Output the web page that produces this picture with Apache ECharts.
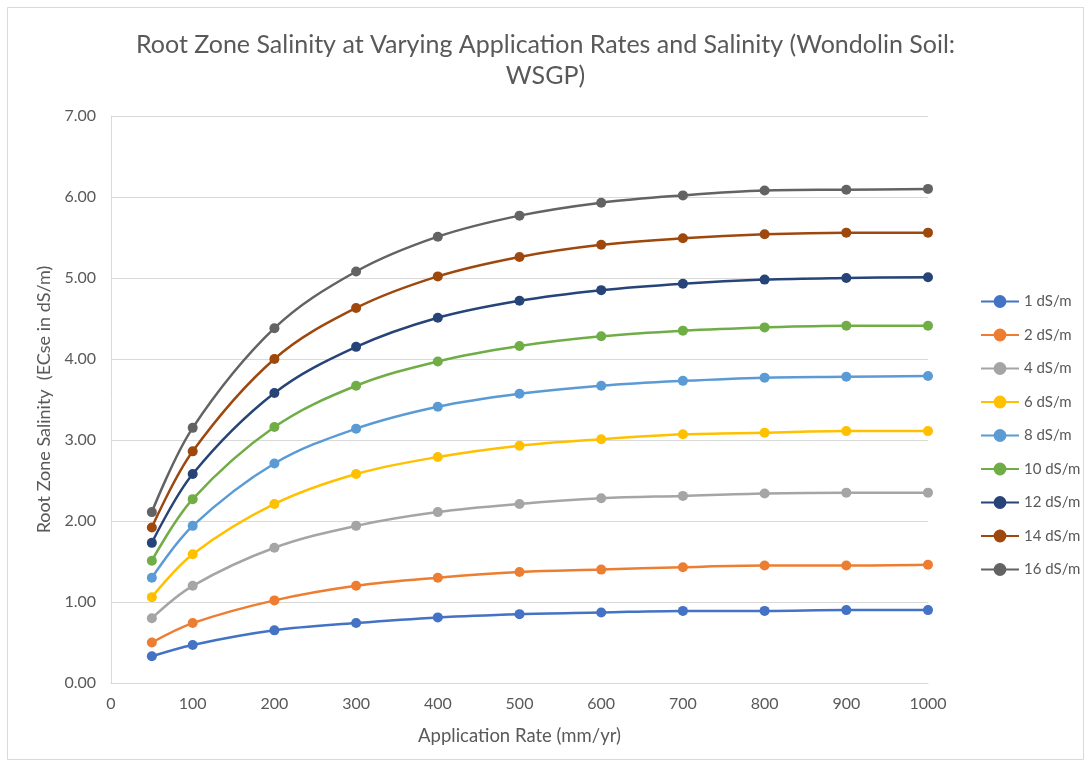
<!DOCTYPE html>
<html>
<head>
<meta charset="utf-8">
<script src="https://cdn.jsdelivr.net/npm/echarts@6/dist/echarts.min.js"></script>
<style>html,body{margin:0;padding:0;background:#fff;}#c{width:1091px;height:767px;}</style>
</head>
<body>
<div id="c"></div>
<script>
const rates = [50,100,200,300,400,500,600,700,800,900,1000];
const seriesNames = ['1 dS/m','2 dS/m','4 dS/m','6 dS/m','8 dS/m','10 dS/m','12 dS/m','14 dS/m','16 dS/m'];
const s1  = [0.33,0.47,0.65,0.74,0.81,0.85,0.87,0.89,0.89,0.90,0.90];
const s2  = [0.50,0.74,1.02,1.20,1.30,1.37,1.40,1.43,1.45,1.45,1.46];
const s4  = [0.80,1.20,1.67,1.94,2.11,2.21,2.28,2.31,2.34,2.35,2.35];
const s6  = [1.06,1.59,2.21,2.58,2.79,2.93,3.01,3.07,3.09,3.11,3.11];
const s8  = [1.30,1.94,2.71,3.14,3.41,3.57,3.67,3.73,3.77,3.78,3.79];
const s10 = [1.51,2.27,3.16,3.67,3.97,4.16,4.28,4.35,4.39,4.41,4.41];
const s12 = [1.73,2.58,3.58,4.15,4.51,4.72,4.85,4.93,4.98,5.00,5.01];
const s14 = [1.92,2.86,4.00,4.63,5.02,5.26,5.41,5.49,5.54,5.56,5.56];
const s16 = [2.11,3.15,4.38,5.08,5.51,5.77,5.93,6.02,6.08,6.09,6.10];
const seriesValues = [s1,s2,s4,s6,s8,s10,s12,s14,s16];
const colors = ['#4472C4','#ED7D31','#A5A5A5','#FFC000','#5B9BD5','#70AD47','#264478','#9E480E','#636363'];
const titleText = 'Root Zone Salinity at Varying Application Rates and Salinity (Wondolin Soil:\nWSGP)';
const xTitle = 'Application Rate (mm/yr)';
const yTitle = 'Root Zone Salinity  (ECse in dS/m)';

const FONT = 'Lato';
const chart = echarts.init(document.getElementById('c'), null, {renderer:'canvas'});
chart.setOption({
  animation:false,
  backgroundColor:'#fff',
  color: colors,
  graphic:[{type:'rect', shape:{x:7.5,y:7.5,width:1076,height:752}, style:{fill:'none', stroke:'#d9d9d9', lineWidth:1}, silent:true}],
  title:{
    text:titleText, left:'center', top:24,
    textStyle:{fontFamily:FONT, fontSize:25, fontWeight:'normal', color:'#595959', lineHeight:31}
  },
  legend:{
    orient:'vertical', left:975, top:289, itemWidth:38, itemHeight:16, itemGap:18.5,
    textStyle:{fontFamily:FONT, fontSize:15, color:'#595959'},
    data: seriesNames
  },
  grid:{left:111, right:163, top:116, bottom:84, containLabel:false},
  xAxis:{
    type:'value', min:0, max:1000, interval:100,
    name:xTitle, nameLocation:'middle', nameGap:44,
    nameTextStyle:{fontFamily:FONT, fontSize:18.5, color:'#595959'},
    axisLine:{show:true, lineStyle:{color:'#d9d9d9', width:1}},
    axisTick:{show:false},
    axisLabel:{fontFamily:FONT, fontSize:16, color:'#595959', margin:13, formatter:v=>String(v)},
    splitLine:{show:false}
  },
  yAxis:{
    type:'value', min:0, max:7, interval:1,
    name:yTitle, nameLocation:'middle', nameGap:57,
    nameTextStyle:{fontFamily:FONT, fontSize:18, color:'#595959'},
    axisLine:{show:true, lineStyle:{color:'#d9d9d9', width:1}},
    axisTick:{show:false},
    axisLabel:{fontFamily:FONT, fontSize:16, color:'#595959', margin:15, formatter:v=>v.toFixed(2)},
    splitLine:{show:true, lineStyle:{color:'#d9d9d9', width:1}}
  },
  series: seriesNames.map((n,i)=>({
    name:n, type:'line', smooth:0.35,
    data: rates.map((r,j)=>[r, seriesValues[i][j]]),
    symbol:'circle', symbolSize:10,
    lineStyle:{width:2.5, color:colors[i]},
    itemStyle:{color:colors[i]}
  }))
});
</script>
</body>
</html>
